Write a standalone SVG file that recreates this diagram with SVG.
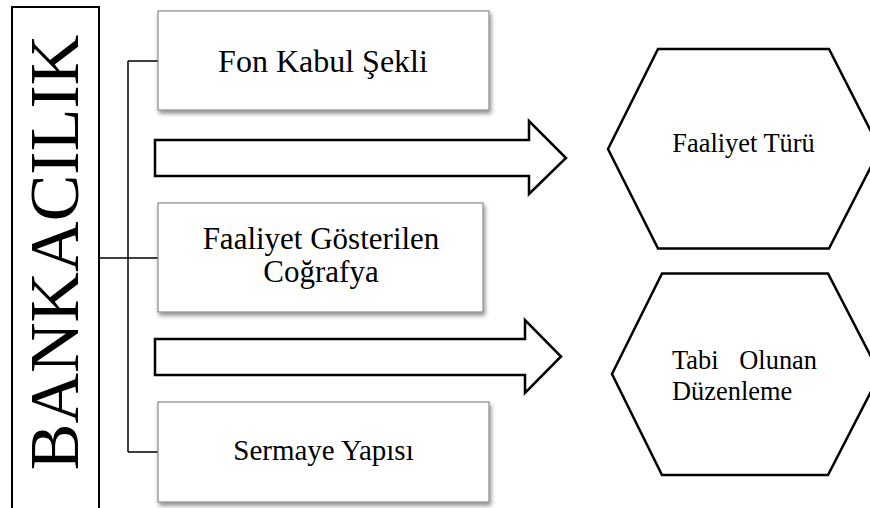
<svg xmlns="http://www.w3.org/2000/svg" width="870" height="508" viewBox="0 0 870 508">
  <style>
    .t { font-family: "Liberation Serif", "Times New Roman", serif; fill: #000; }
    .box { fill: #fff; stroke: #8a8a8a; stroke-width: 1.2; filter: url(#sh); }
    .arrow { fill: #fff; stroke: #000; stroke-width: 2.5; stroke-linejoin: miter; }
    .hex { fill: #fff; stroke: #000; stroke-width: 2.5; }
    .conn { fill: none; stroke: #000; stroke-width: 1.5; }
  </style>
  <defs>
    <filter id="sh" x="-10%" y="-10%" width="130%" height="140%">
      <feDropShadow dx="1.5" dy="3" stdDeviation="2" flood-color="#000" flood-opacity="0.45"/>
    </filter>
  </defs>
  <rect width="870" height="508" fill="#fff"/>

  <g id="bankacilik">
    <rect x="12" y="7" width="87" height="510" fill="#fff" stroke="#000" stroke-width="2"/>
    <text class="t" x="0" y="0" font-size="70" text-anchor="middle" transform="translate(78 252.5) rotate(-90)">BANKACILIK</text>
  </g>

  <g id="connectors">
    <path class="conn" d="M99 258 H158 M128 61 V452 M128 61 H158 M128 452 H158"/>
  </g>

  <g id="fon-kabul">
    <rect class="box" x="158" y="11" width="331" height="99"/>
    <text class="t" x="323" y="72" font-size="32" text-anchor="middle">Fon Kabul Şekli</text>
  </g>

  <g id="cografya">
    <rect class="box" x="158" y="203" width="325" height="109"/>
    <text class="t" x="321" y="249" font-size="31" text-anchor="middle">Faaliyet Gösterilen</text>
    <text class="t" x="321" y="282" font-size="31" text-anchor="middle">Coğrafya</text>
  </g>

  <g id="sermaye">
    <rect class="box" x="158" y="402" width="331" height="100"/>
    <text class="t" x="323.5" y="460" font-size="29" text-anchor="middle">Sermaye Yapısı</text>
  </g>

  <g id="arrow1">
    <polygon class="arrow" points="155,140 529,140 529,121 566,158 529,194 529,176 155,176"/>
  </g>

  <g id="arrow2">
    <polygon class="arrow" points="155,339 525,339 525,320 561,356.5 525,393 525,375 155,375"/>
  </g>

  <g id="faaliyet-turu">
    <polygon class="hex" points="658,49 829,49 880,149 829,248.5 658,248.5 608,149"/>
    <text class="t" x="743.5" y="152" font-size="26.4" text-anchor="middle">Faaliyet Türü</text>
  </g>

  <g id="tabi-olunan">
    <polygon class="hex" points="662,273.5 828,273.5 880,374 828,475 662,475 612,374"/>
    <text class="t" x="672" y="369" font-size="26.4">Tabi</text>
    <text class="t" x="817" y="369" font-size="26.4" text-anchor="end">Olunan</text>
    <text class="t" x="672" y="400" font-size="26.4">Düzenleme</text>
  </g>
</svg>
